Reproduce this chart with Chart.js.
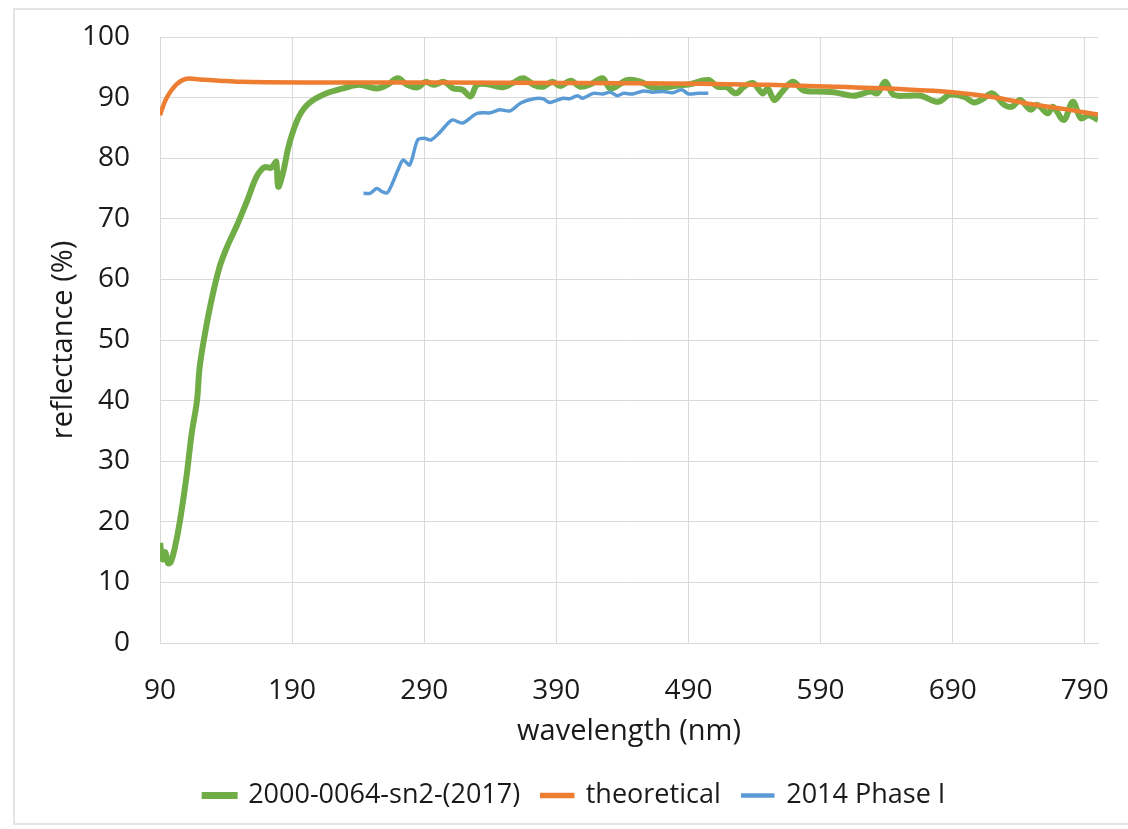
<!DOCTYPE html>
<html>
<head>
<meta charset="utf-8">
<script src="https://cdn.jsdelivr.net/npm/chart.js@4.4.1/dist/chart.umd.min.js"></script>
<style>
  html, body { margin: 0; padding: 0; background: #fff; }
  #frame { position: absolute; left: 13px; top: 8px; width: 1130px; height: 817px; border: 2px solid #e4e4e4; box-sizing: border-box; }
  #wrap { position: absolute; left: 0; top: 0; width: 1128px; height: 829px; }
</style>
</head>
<body>
<div id="frame"></div>
<div id="wrap"><canvas id="chartReflectance"></canvas></div>
<script>
// ---- data ----
const xTicks = [90, 190, 290, 390, 490, 590, 690, 790];

const sn2Label = '2000-0064-sn2-(2017)';
const sn2Nm = [90, 92, 94, 96, 98, 101, 105, 110, 114, 118, 120, 124, 129, 135, 141, 148, 156, 163, 169, 174, 176, 178, 179.5, 183, 188, 195, 203, 216, 230, 241, 254, 262, 270, 277, 285, 291, 297, 305, 312, 319, 325, 330, 338, 350, 357, 365, 373, 380, 387, 393, 401, 408, 416, 425, 431, 444, 454, 461, 469, 479, 491, 505, 512, 519, 526, 532, 539, 546, 550, 555, 561, 569, 577, 588, 600, 615, 628, 633, 639, 645, 656, 666, 679, 688, 699, 706, 713, 720, 729, 735, 741, 749, 754, 762, 766, 774, 781, 787, 793, 800];
const sn2R  = [16.5, 13.8, 15, 13.2, 13.3, 15.5, 20, 27.4, 34.6, 40, 45.5, 51, 56.6, 62, 65.5, 68.8, 73, 76.9, 78.5, 78.4, 78.9, 79.4, 75.3, 77.5, 82.5, 86.8, 89.1, 90.7, 91.6, 92.1, 91.5, 92.1, 93.2, 92.1, 91.7, 92.6, 92.1, 92.6, 91.5, 91.3, 90.2, 92.1, 92.2, 91.7, 92.4, 93.2, 92.1, 91.8, 92.6, 91.9, 92.8, 91.8, 92.2, 93.2, 91.5, 92.9, 92.6, 91.8, 91.5, 91.9, 92.2, 92.9, 91.8, 91.7, 90.7, 91.8, 92.4, 90.7, 91.5, 89.6, 91, 92.6, 91.2, 91, 90.9, 90.3, 91, 90.7, 92.6, 90.5, 90.3, 90.3, 89.3, 90.5, 90.1, 89.2, 89.8, 90.7, 88.8, 88.5, 89.6, 88, 88.8, 87.4, 88.5, 86.3, 89.3, 86.6, 87.1, 86.3];

const theoLabel = 'theoretical';
const theoNm = [90, 94, 98, 103, 110, 120, 135, 150, 200, 300, 400, 500, 550, 600, 650, 690, 720, 750, 775, 800];
const theoR  = [87.1, 89.5, 91, 92.3, 93.1, 93, 92.8, 92.6, 92.5, 92.5, 92.4, 92.3, 92.1, 91.8, 91.4, 90.9, 90.1, 88.9, 88.1, 87.2];

const phaseLabel = '2014 Phase I';
const phaseNm = [244, 249, 254, 258, 262, 266, 270, 274, 279, 285, 290, 295, 302, 311, 319, 330, 340, 347, 355, 363, 373, 380, 385, 395, 400, 406, 410, 418, 425, 431, 436, 441, 448, 456, 463, 471, 478, 485, 490, 497, 505];
const phaseR  = [74.2, 74.2, 75, 74.5, 74.3, 75.9, 78, 79.7, 78.9, 83, 83.3, 83, 84.3, 86.3, 85.8, 87.4, 87.5, 88, 87.8, 89.1, 89.8, 89.8, 89.2, 89.9, 89.8, 90.3, 89.9, 90.7, 90.6, 90.9, 90.3, 90.7, 90.6, 91.1, 90.9, 91, 90.8, 91.3, 90.6, 90.7, 90.7];

const toPoints = (xs, ys) => xs.map((x, i) => ({ x, y: ys[i] }));

const FONT = 'Open Sans';
const TEXT = '#1a1a1a';
const GRID = '#d9d9d9';

const ctx = document.getElementById('chartReflectance').getContext('2d');
const chartReflectance = new Chart(ctx, {
  type: 'line',
  data: {
    datasets: [
      {
        label: sn2Label,
        data: toPoints(sn2Nm, sn2R),
        borderColor: '#70ad47',
        backgroundColor: '#70ad47',
        borderWidth: 6,
        tension: 0.35,
        pointRadius: 0,
        order: 2,
      },
      {
        label: theoLabel,
        data: toPoints(theoNm, theoR),
        borderColor: '#ed7d31',
        backgroundColor: '#ed7d31',
        borderWidth: 4.5,
        tension: 0.35,
        pointRadius: 0,
        order: 1,
      },
      {
        label: phaseLabel,
        data: toPoints(phaseNm, phaseR),
        borderColor: '#5b9bd5',
        backgroundColor: '#5b9bd5',
        borderWidth: 3.5,
        tension: 0.3,
        pointRadius: 0,
        order: 0,
      }
    ]
  },
  options: {
    responsive: true,
    maintainAspectRatio: false,
    animation: false,
    layout: { autoPadding: false, padding: { top: 37, right: 30, left: 52, bottom: 10 } },
    plugins: {
      tooltip: { enabled: false },
      legend: {
        position: 'bottom',
        labels: {
          font: { family: FONT, size: 27 },
          color: TEXT,
          boxWidth: 30,
          boxHeight: 1,
          padding: 22,
          sort: (a, b) => a.datasetIndex - b.datasetIndex,
        }
      }
    },
    scales: {
      x: {
        type: 'linear',
        min: 90,
        max: 800,
        afterBuildTicks: scale => { scale.ticks = xTicks.map(v => ({ value: v })); },
        afterFit: scale => { scale.height = 117; scale.paddingLeft = 0; scale.paddingRight = 0; },
        ticks: { font: { family: FONT, size: 28 }, color: TEXT, padding: 31, maxRotation: 0 },
        grid: { color: GRID, drawTicks: false },
        border: { color: GRID },
        title: { display: true, text: 'wavelength (nm)', font: { family: FONT, size: 29 }, color: TEXT, padding: { top: 4, bottom: 11 } }
      },
      y: {
        min: 0,
        max: 100,
        afterFit: scale => { scale.width = 108; scale.paddingTop = 0; scale.paddingBottom = 0; },
        ticks: { stepSize: 10, font: { family: FONT, size: 28 }, color: TEXT, padding: 30 },
        grid: { color: GRID, drawTicks: false },
        border: { color: GRID },
        title: { display: true, text: 'reflectance (%)', font: { family: FONT, size: 29 }, color: TEXT, padding: { top: -6, bottom: 0 } }
      }
    }
  }
});
</script>
</body>
</html>
